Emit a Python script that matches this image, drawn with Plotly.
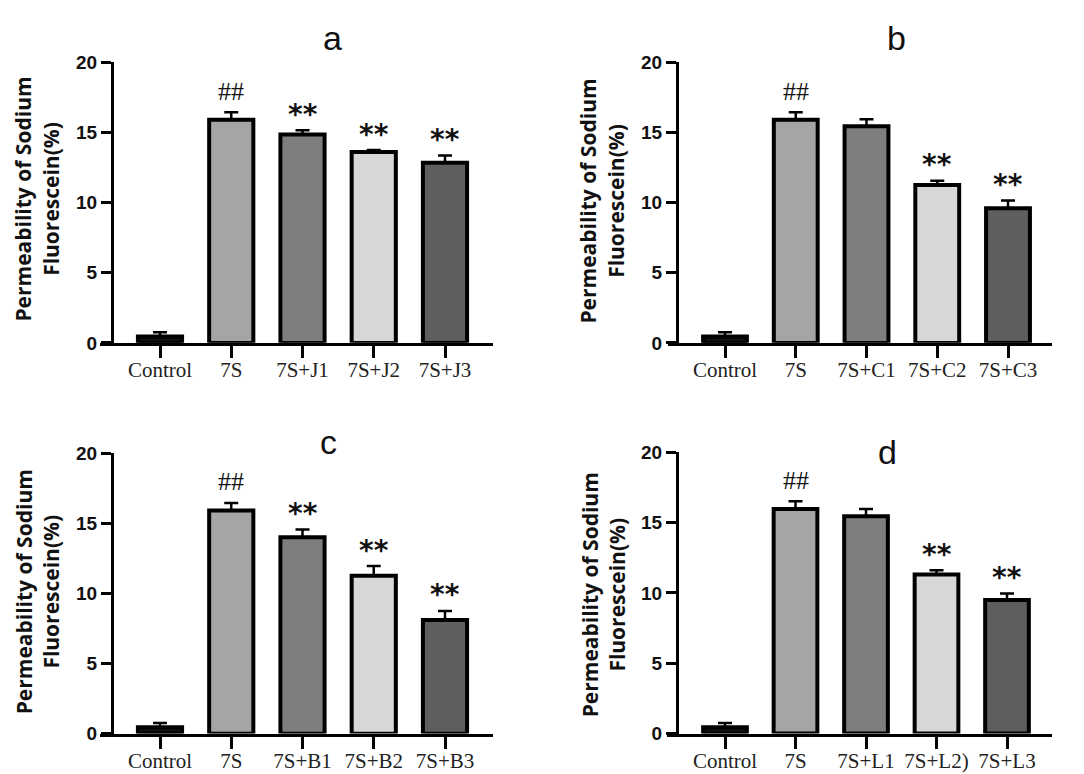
import plotly.graph_objects as go

# The photographed page shows the figure shifted by the body margin and
# slightly compressed vertically; reference pixels are mapped accordingly.
W, H = 1068, 774
OX = 8.0               # horizontal page offset
OY, KY = 18.75, 0.971  # vertical offset and scale seen in the photograph

# ---------------- data ----------------
cats_a = ["Control", "7S", "7S+J1", "7S+J2", "7S+J3"]
vals_a = [0.45, 15.9, 14.85, 13.6, 12.85]
errs_a = [0.3, 0.55, 0.3, 0.15, 0.5]
sig_a = ["", "##", "**", "**", "**"]

cats_b = ["Control", "7S", "7S+C1", "7S+C2", "7S+C3"]
vals_b = [0.45, 15.9, 15.45, 11.25, 9.6]
errs_b = [0.3, 0.55, 0.5, 0.3, 0.55]
sig_b = ["", "##", "", "**", "**"]

cats_c = ["Control", "7S", "7S+B1", "7S+B2", "7S+B3"]
vals_c = [0.45, 15.9, 14.0, 11.25, 8.1]
errs_c = [0.3, 0.55, 0.55, 0.7, 0.65]
sig_c = ["", "##", "**", "**", "**"]

cats_d = ["Control", "7S", "7S+L1", "7S+L2)", "7S+L3"]
vals_d = [0.45, 15.95, 15.45, 11.3, 9.5]
errs_d = [0.3, 0.55, 0.5, 0.3, 0.45]
sig_d = ["", "##", "", "**", "**"]

panel_titles = ["a", "b", "c", "d"]
y_ticks = [0, 5, 10, 15, 20]
y_title_lines = ["Permeability of Sodium", "Fluorescein(%)"]

bar_colors = ["#111111", "#a3a5a7", "#7d7e7f", "#d6d8d7", "#5d5e5f"]

# ---------------- layout geometry (reference pixels) ----------------
# tt = title (x, y); top titles use y=None -> pinned to the top edge
panels = [
    dict(xd=(100, 493), yx=112, y0=343, y1=63, c0=160, c4=445, tt=(332, None), yl=(37, 200)),
    dict(xd=(668, 1052), yx=677, y0=343, y1=63, c0=725, c4=1008, tt=(896, None), yl=(602, 202)),
    dict(xd=(100, 493), yx=112, y0=733, y1=453, c0=160, c4=445, tt=(328, 442), yl=(37, 592)),
    dict(xd=(667, 1052), yx=677, y0=733, y1=452, c0=725, c4=1007, tt=(887, 452), yl=(603, 595)),
]
data = [
    (cats_a, vals_a, errs_a, sig_a),
    (cats_b, vals_b, errs_b, sig_b),
    (cats_c, vals_c, errs_c, sig_c),
    (cats_d, vals_d, errs_d, sig_d),
]

fx = lambda px: (px - OX) / W
fy = lambda py: 1 - ((py - OY) / KY) / H

fig = go.Figure()
annotations = []
layout = {}

for i, (p, (cats, vals, errs, sig)) in enumerate(zip(panels, data)):
    n = i + 1
    xa = "x" if n == 1 else f"x{n}"
    ya = "y" if n == 1 else f"y{n}"
    fig.add_trace(go.Bar(
        x=cats, y=vals, xaxis=xa, yaxis=ya,
        marker=dict(color=bar_colors, line=dict(color="black", width=4)),
        width=0.62,
        error_y=dict(type="data", array=errs, arrayminus=[0] * len(errs),
                     symmetric=False, color="black", thickness=2.5, width=7),
        showlegend=False,
    ))
    s = (p["c4"] - p["c0"]) / 4.0
    r0 = -(p["c0"] - p["xd"][0]) / s
    r1 = 4 + (p["xd"][1] - p["c4"]) / s
    layout["xaxis" if n == 1 else f"xaxis{n}"] = dict(
        domain=[fx(p["xd"][0]), fx(p["xd"][1])], anchor=ya, range=[r0, r1],
        showline=True, linecolor="black", linewidth=3,
        ticks="outside", ticklen=12, tickwidth=3, tickcolor="black",
        ticklabelstandoff=-6,
        tickfont=dict(family="Liberation Serif", size=21, color="#222"),
        showgrid=False, zeroline=False, fixedrange=True,
    )
    layout["yaxis" if n == 1 else f"yaxis{n}"] = dict(
        domain=[fy(p["y0"]), fy(p["y1"])], anchor="free", position=fx(p["yx"]),
        range=[0, 20], tickvals=y_ticks,
        showline=True, linecolor="black", linewidth=3,
        ticks="outside", ticklen=10, tickwidth=3, tickcolor="black",
        tickfont=dict(family="Liberation Sans", size=19, color="#111", weight="bold"),
        showgrid=False, zeroline=False, fixedrange=True,
    )
    for c, v, e, t in zip(cats, vals, errs, sig):
        if not t:
            continue
        if t == "##":
            fnt = dict(family="Liberation Serif", size=26, color="#111")
            ysh = 21
        else:
            fnt = dict(family="DejaVu Sans", size=28, color="#111", weight="bold")
            ysh = 16
        annotations.append(dict(x=c, y=v + e, xref=xa, yref=ya, text=t,
                                showarrow=False, yanchor="middle", yshift=ysh, font=fnt))
    tfont = dict(family="Liberation Sans", size=34, color="#111")
    if p["tt"][1] is None:
        annotations.append(dict(x=fx(p["tt"][0]), y=1, xref="paper", yref="paper",
                                text=panel_titles[i], showarrow=False, xanchor="center",
                                yanchor="top", borderpad=0, font=tfont))
    else:
        annotations.append(dict(x=fx(p["tt"][0]), y=fy(p["tt"][1]), xref="paper",
                                yref="paper", text=panel_titles[i], showarrow=False,
                                xanchor="center", yanchor="middle", font=tfont))
    annotations.append(dict(x=fx(p["yl"][0]), y=fy(p["yl"][1]), xref="paper", yref="paper",
                            text="<br>".join(y_title_lines), showarrow=False,
                            textangle=-90, xanchor="center", yanchor="middle",
                            borderpad=0,
                            font=dict(family="Open Sans", size=21, color="#111",
                                      weight="bold")))

fig.update_layout(
    width=W, height=H, autosize=False,
    margin=dict(l=0, r=0, t=0, b=0),
    paper_bgcolor="white", plot_bgcolor="rgba(0,0,0,0)",
    annotations=annotations,
    **layout,
)

fig.write_html("out.html")
